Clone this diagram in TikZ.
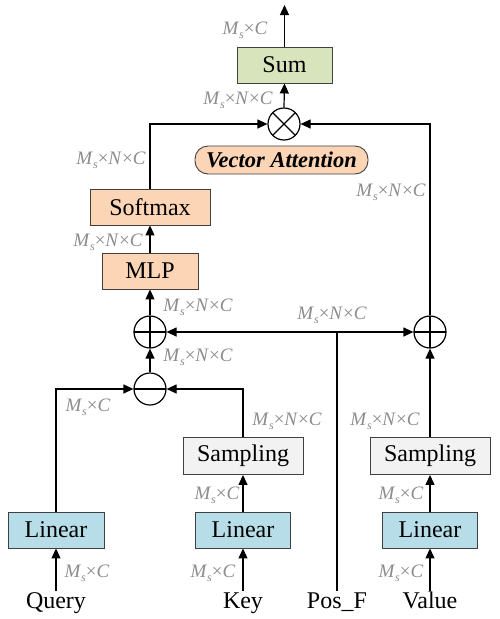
\documentclass[tikz,border=0pt]{standalone}
\usepackage{fontspec}
\setmainfont{Liberation Serif}
\usetikzlibrary{arrows.meta}
\definecolor{sumgreen}{RGB}{216,228,188}
\definecolor{peach}{RGB}{251,213,181}
\definecolor{lblue}{RGB}{183,222,232}
\definecolor{lgray}{RGB}{242,242,242}
\definecolor{lbl}{RGB}{140,140,140}
\newcommand{\Msub}{\textit{M}\raisebox{-0.2em}{\fontsize{12}{12}\selectfont\textit{s}}}
\newcommand{\dimNC}{\Msub×\textit{N}×\textit{C}}
\newcommand{\dimC}{\Msub×\textit{C}}
\begin{document}
\begin{tikzpicture}[x=1pt,y=-1pt,
 box/.style={draw=black!75, line width=0.9pt, inner sep=0, font=\fontsize{24}{24}\selectfont},
 op/.style={draw, circle, line width=1.2pt, minimum size=32pt, inner sep=0},
 oplus/.style={op, path picture={\draw[line width=1.2pt] (path picture bounding box.north) -- (path picture bounding box.south) (path picture bounding box.west) -- (path picture bounding box.east);}},
 ominus/.style={op, path picture={\draw[line width=1.2pt] (path picture bounding box.west) -- (path picture bounding box.east);}},
 otimes/.style={op, path picture={\draw[line width=1.2pt] (path picture bounding box.north west) -- (path picture bounding box.south east) (path picture bounding box.south west) -- (path picture bounding box.north east);}},
 lab/.style={text=lbl, font=\fontsize{19}{19}\selectfont, inner sep=0},
 io/.style={font=\fontsize{24}{24}\selectfont, inner sep=0, text height=17pt, text depth=5pt, anchor=north},
 conn/.style={line width=1.2pt},
 arr/.style={conn, -{Triangle[length=10pt,width=9pt]}}]
\useasboundingbox (0,0) rectangle (499,619);

% boxes
\node[box, fill=sumgreen, minimum width=95pt, minimum height=36pt] (sum) at (284.5,65) {Sum};
\node[otimes] (mul) at (284,124) {};
\node[draw=black!75, line width=0.9pt, fill=peach, rounded corners=13pt, minimum width=173pt, minimum height=28pt, inner sep=0, font=\fontsize{22.5}{22.5}\selectfont\bfseries\itshape] (va) at (281.5,160) {Vector Attention};
\node[box, fill=peach, minimum width=120pt, minimum height=36pt] (softmax) at (150,207) {Softmax};
\node[box, fill=peach, minimum width=96pt, minimum height=36pt] (mlp) at (150,271) {MLP};
\node[oplus] (addL) at (150,332) {};
\node[oplus] (addR) at (430,332) {};
\node[ominus] (sub) at (150,389) {};
\node[box, fill=lgray, minimum width=120pt, minimum height=37pt] (sampK) at (243,456) {Sampling};
\node[box, fill=lgray, minimum width=120pt, minimum height=37pt] (sampV) at (430,456) {Sampling};
\node[box, fill=lblue, minimum width=96pt, minimum height=36pt] (linQ) at (56,530) {Linear};
\node[box, fill=lblue, minimum width=95pt, minimum height=36pt] (linK) at (243,530) {Linear};
\node[box, fill=lblue, minimum width=95pt, minimum height=36pt] (linV) at (430,530) {Linear};

% inputs
\node[io] (query) at (56,591) {Query};
\node[io] (key) at (243,591) {Key};
\node[io] (posf) at (337,591) {Pos\_F};
\node[io] (value) at (430,591) {Value};

\coordinate (out) at (284.5,5);
\coordinate (junc) at (posf.north |- addL);

% connectors
\draw[arr] (sum.north) -- (out);
\draw[arr] (mul.north) -- (sum.south);
\draw[arr] (softmax.north) |- (mul.west);
\draw[arr] (addR.north) |- (mul.east);
\draw[arr] (mlp.north) -- (softmax.south);
\draw[arr] (addL.north) -- (mlp.south);
\draw[arr] (sub.north) -- (addL.south);
\draw[arr] (linQ.north) |- (sub.west);
\draw[arr] (sampK.north) |- (sub.east);
\draw[arr] (linK.north) -- (sampK.south);
\draw[arr] (linV.north) -- (sampV.south);
\draw[arr] (sampV.north) -- (addR.south);
\draw[arr] (query.north) -- (linQ.south);
\draw[arr] (key.north) -- (linK.south);
\draw[arr] (value.north) -- (linV.south);
\draw[conn] (posf.north) -- (junc);
\draw[arr] (junc) -- (addL.east);
\draw[arr] (junc) -- (addR.west);

% labels
\node[lab] (l1) at (245,30) {\dimC};
\node[lab] (l2) at (238,100) {\dimNC};
\node[lab] (l3) at (111,160) {\dimNC};
\node[lab] (l4) at (391,192) {\dimNC};
\node[lab] (l5) at (108,242) {\dimNC};
\node[lab] (l6) at (198,307) {\dimNC};
\node[lab] (l7) at (198,357) {\dimNC};
\node[lab] (l8) at (332,315) {\dimNC};
\node[lab] (l9) at (88,407) {\dimC};
\node[lab] (l10) at (287,421) {\dimNC};
\node[lab] (l11) at (385,421) {\dimNC};
\node[lab] (l12) at (217,495) {\dimC};
\node[lab] (l13) at (401,495) {\dimC};
\node[lab] (l14) at (87,573) {\dimC};
\node[lab] (l15) at (213,573) {\dimC};
\node[lab] (l16) at (401,573) {\dimC};
\end{tikzpicture}
\end{document}
